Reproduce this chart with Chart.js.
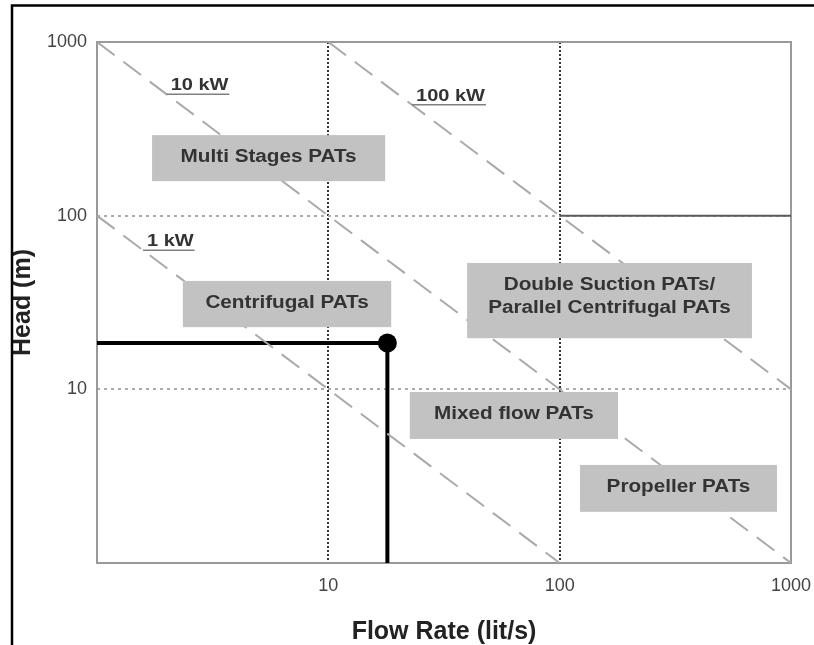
<!DOCTYPE html>
<html>
<head>
<meta charset="utf-8">
<script src="https://cdn.jsdelivr.net/npm/chart.js@4.4.1/dist/chart.umd.min.js"></script>
<style>
  html, body { margin: 0; padding: 0; background: #fff; }
  canvas { display: block; }
</style>
</head>
<body>
<canvas id="c" width="814" height="645"></canvas>
<script>
// Labelled tick values on the two logarithmic axes
const flowTicks = [10, 100, 1000];
const headTicks = [10, 100, 1000];

// Constant-power lines (Q·H = const), given by their end points
const powerNames = ['1 kW', '10 kW', '100 kW'];
const power1kWFlow = [1, 100];
const power1kWHead = [100, 1];
const power10kWFlow = [1, 1000];
const power10kWHead = [1000, 1];
const power100kWFlow = [10, 1000];
const power100kWHead = [1000, 10];

// Upper head limit of the propeller / double suction field
const limitFlow = [100, 1000];
const limitHead = [100, 100];

// Selected operating point (flow 18 lit/s, head 18.5 m) with its guide lines
const dutyFlow = [1, 18, 18];
const dutyHead = [18.5, 18.5, 1];

// Turbine type fields
const regionNames = [
  ['Multi Stages PATs'],
  ['Centrifugal PATs'],
  ['Double Suction PATs/', 'Parallel Centrifugal PATs'],
  ['Mixed flow PATs'],
  ['Propeller PATs']
];

// Field boxes in axis units (flow range, head range)
const regionBoxes = [
  { q0: 1.73, q1: 17.6, h0: 158, h1: 291 },
  { q0: 2.35, q1: 18.7, h0: 22.8, h1: 42.1 },
  { q0: 39.8, q1: 678, h0: 19.7, h1: 53.4 },
  { q0: 22.5, q1: 178.7, h0: 5.18, h1: 9.65 },
  { q0: 122.4, q1: 870, h0: 1.97, h1: 3.67 }
];

// Where each power label sits on its line
const powerLabelAt = [
  { q: 1.58, h: 63.3 },
  { q: 2, h: 500 },
  { q: 23, h: 435 }
];

const FONT = '"Liberation Sans", Arial, Helvetica, sans-serif';

function zip(xs, ys) {
  return xs.map((x, i) => ({ x: x, y: ys[i] }));
}

const dashed = {
  borderColor: '#a9a9a9',
  borderWidth: 2,
  borderDash: [22, 11],
  pointRadius: 0,
  fill: false,
  tension: 0
};

const decor = {
  id: 'decor',
  beforeDatasetsDraw(chart) {
    const { ctx, chartArea: a } = chart;
    ctx.save();
    ctx.strokeStyle = '#999';
    ctx.lineWidth = 2;
    ctx.strokeRect(a.left, a.top, a.right - a.left, a.bottom - a.top);
    ctx.restore();
  },
  afterDatasetsDraw(chart) {
    const { ctx } = chart;
    const xs = chart.scales.x, ys = chart.scales.y;

    // field boxes
    ctx.save();
    regionBoxes.forEach((b, i) => {
      const x0 = xs.getPixelForValue(b.q0), x1 = xs.getPixelForValue(b.q1);
      const y0 = ys.getPixelForValue(b.h1), y1 = ys.getPixelForValue(b.h0);
      ctx.fillStyle = '#c2c2c2';
      ctx.fillRect(x0, y0, x1 - x0, y1 - y0);
      const cx = (x0 + x1) / 2, cy = (y0 + y1) / 2;
      const lines = regionNames[i];
      ctx.fillStyle = '#333';
      ctx.font = 'bold 18px ' + FONT;
      ctx.textAlign = 'center';
      ctx.textBaseline = 'alphabetic';
      const offsets = lines.length === 1 ? [3.5] : [-11, 12];
      lines.forEach((t, k) => {
        ctx.save();
        ctx.translate(cx, cy + offsets[k]);
        ctx.scale(1.15, 1);
        ctx.fillText(t, 0, 0);
        ctx.restore();
      });
    });

    // power labels with underline
    powerNames.forEach((name, i) => {
      const p = powerLabelAt[i];
      const ax = xs.getPixelForValue(p.q), ay = ys.getPixelForValue(p.h);
      ctx.font = 'bold 16px ' + FONT;
      const w = ctx.measureText(name).width * 1.25;
      ctx.save();
      ctx.translate(ax + 4, ay - 4);
      ctx.scale(1.25, 1);
      ctx.fillStyle = '#333';
      ctx.textAlign = 'left';
      ctx.textBaseline = 'alphabetic';
      ctx.fillText(name, 0, 0);
      ctx.restore();
      ctx.strokeStyle = '#808080';
      ctx.lineWidth = 1.5;
      ctx.beginPath();
      ctx.moveTo(ax, ay);
      ctx.lineTo(ax + 5 + w, ay);
      ctx.stroke();
    });
    ctx.restore();
  },
  afterDraw(chart) {
    const { ctx, width, height } = chart;
    ctx.save();
    ctx.strokeStyle = '#000';
    ctx.lineWidth = 2.5;
    ctx.beginPath();
    ctx.moveTo(12, height);
    ctx.lineTo(12, 5.5);
    ctx.lineTo(width, 5.5);
    ctx.stroke();
    ctx.restore();
  }
};

const tickFont = { family: FONT, size: 18 };
const titleFont = { family: FONT, size: 25, weight: 'bold' };

new Chart(document.getElementById('c'), {
  type: 'line',
  data: {
    datasets: [
      Object.assign({ label: powerNames[0], data: zip(power1kWFlow, power1kWHead) }, dashed),
      Object.assign({ label: powerNames[1], data: zip(power10kWFlow, power10kWHead) }, dashed),
      Object.assign({ label: powerNames[2], data: zip(power100kWFlow, power100kWHead) }, dashed),
      {
        label: 'limit',
        data: zip(limitFlow, limitHead),
        borderColor: '#5a5a5a',
        borderWidth: 2,
        pointRadius: 0,
        fill: false
      },
      {
        label: 'duty',
        data: zip(dutyFlow, dutyHead),
        borderColor: '#000',
        borderWidth: 4,
        pointRadius: [0, 9.5, 0],
        pointBackgroundColor: '#000',
        pointBorderColor: '#000',
        pointBorderWidth: 0,
        fill: false
      }
    ]
  },
  options: {
    responsive: false,
    animation: false,
    events: [],
    layout: { padding: { top: 42, right: 23, bottom: 0, left: 0 } },
    plugins: { legend: { display: false }, tooltip: { enabled: false } },
    scales: {
      x: {
        type: 'logarithmic',
        min: 1,
        max: 1000,
        afterBuildTicks: s => { s.ticks = [1].concat(flowTicks).map(v => ({ value: v })); },
        afterFit: s => { s.height = 82; s.paddingLeft = 0; s.paddingRight = 0; },
        ticks: {
          callback: v => flowTicks.includes(v) ? String(v) : '',
          font: tickFont,
          color: '#444',
          padding: 12,
          maxRotation: 0,
          autoSkip: false
        },
        grid: {
          color: c => (c.tick && c.tick.value > 1 && c.tick.value < 1000) ? '#333' : 'rgba(0,0,0,0)',
          lineWidth: 2,
          drawTicks: false
        },
        border: { display: false, dash: [2, 2] },
        title: {
          display: true,
          text: 'Flow Rate (lit/s)',
          font: Object.assign({ lineHeight: 1 }, titleFont),
          color: '#222',
          padding: { top: 0, bottom: 0 }
        }
      },
      y: {
        type: 'logarithmic',
        min: 1,
        max: 1000,
        afterBuildTicks: s => { s.ticks = [1].concat(headTicks).map(v => ({ value: v })); },
        afterFit: s => { s.width = 97; s.paddingTop = 0; s.paddingBottom = 0; },
        ticks: {
          callback: v => headTicks.includes(v) ? String(v) : '',
          font: tickFont,
          color: '#444',
          padding: 10,
          autoSkip: false
        },
        grid: {
          color: c => (c.tick && c.tick.value > 1 && c.tick.value < 1000) ? '#ababab' : 'rgba(0,0,0,0)',
          lineWidth: 2,
          drawTicks: false
        },
        border: { display: false, dash: [3, 4] },
        title: {
          display: true,
          text: 'Head (m)',
          font: titleFont,
          color: '#222',
          padding: { top: 8, bottom: 0 }
        }
      }
    }
  },
  plugins: [decor]
});
</script>
</body>
</html>
